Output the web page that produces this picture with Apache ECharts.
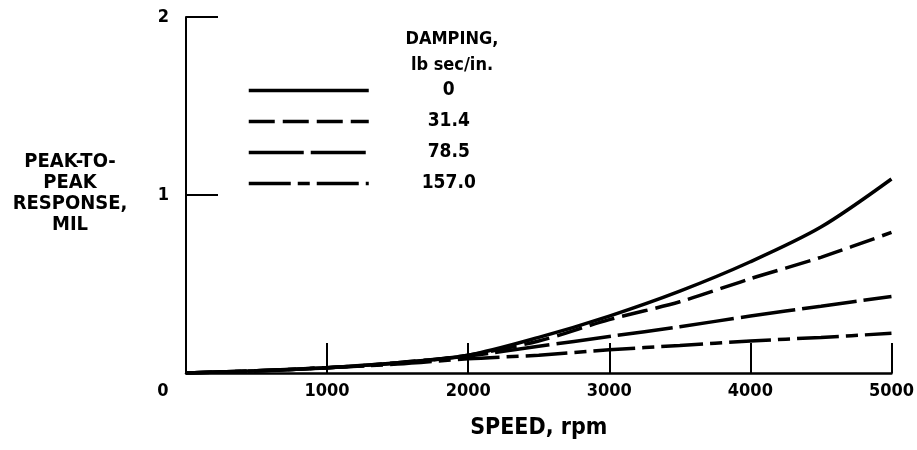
<!DOCTYPE html>
<html>
<head>
<meta charset="utf-8">
<script src="https://cdn.jsdelivr.net/npm/echarts@6/dist/echarts.min.js"></script>
<style>
  html, body { margin: 0; padding: 0; background: #fff; }
  #chart { width: 917px; height: 450px; }
</style>
</head>
<body>
<div id="chart"></div>
<script>
// speed (rpm) and peak-to-peak response (mil) for each damping value
const speeds = [0, 500, 1000, 1500, 2000, 2500, 3000, 3500, 4000, 4500, 5000];
const damp0 = [0, 0.012, 0.03, 0.058, 0.1, 0.2, 0.32, 0.46, 0.625, 0.82, 1.09];
const damp31 = [0, 0.012, 0.03, 0.058, 0.1, 0.18, 0.3, 0.4, 0.53, 0.65, 0.79];
const damp78 = [0, 0.012, 0.03, 0.055, 0.095, 0.15, 0.205, 0.26, 0.32, 0.375, 0.43];
const damp157 = [0, 0.012, 0.03, 0.05, 0.08, 0.1, 0.13, 0.155, 0.18, 0.2, 0.223];
const legendNames = ["0", "31.4", "78.5", "157.0"];

const font = "'DejaVu Sans Condensed', 'Liberation Sans Narrow', sans-serif";

function pairs(vals) {
  return speeds.map((s, i) => [s, vals[i]]);
}

function line(name, vals, dash) {
  return {
    type: "line",
    name: name,
    data: pairs(vals),
    smooth: 0.3,
    symbol: "none",
    itemStyle: { color: "#000" },
    lineStyle: { color: "#000", width: 3.5, type: dash }
  };
}

let myChart = echarts.init(document.getElementById("chart"));
let option = {
  backgroundColor: "#fff",
  animation: false,
  color: ["#000"],
  textStyle: { fontFamily: font },
  grid: { left: 186, right: 19, top: 17, bottom: 77 },
  title: {
    text: "DAMPING,\nlb sec/in.",
    left: 447,
    top: 21,
    textAlign: "center",
    textStyle: { fontFamily: font, fontWeight: "bold", fontSize: 18, lineHeight: 26, color: "#000" }
  },
  legend: {
    orient: "vertical",
    left: 247,
    top: 81,
    padding: 0,
    itemWidth: 120,
    itemHeight: 14,
    itemGap: 12,
    data: legendNames,
    itemStyle: { opacity: 0 },
    lineStyle: { width: 3.5 },
    formatter: (n) => "{v|" + n + "}",
    textStyle: {
      rich: {
        v: { width: 150, align: "center", fontFamily: font, fontWeight: "bold", fontSize: 19, color: "#000" }
      }
    }
  },
  graphic: [
    {
      type: "text",
      x: 70,
      y: 151,
      style: {
        text: "PEAK-TO-\nPEAK\nRESPONSE,\nMIL",
        fill: "#000",
        font: "bold 20px " + font,
        lineHeight: 21,
        align: "center"
      }
    }
  ],
  xAxis: {
    type: "value",
    min: 0,
    max: 5000,
    interval: 1000,
    name: "SPEED, rpm",
    nameLocation: "middle",
    nameGap: 44,
    nameTextStyle: { fontFamily: font, fontWeight: "bold", fontSize: 23, color: "#000" },
    axisLine: { lineStyle: { color: "#000", width: 2.5 } },
    axisTick: { inside: true, length: 30, lineStyle: { color: "#000", width: 2 } },
    splitLine: { show: false },
    axisLabel: {
      margin: 9,
      fontFamily: font,
      fontWeight: "bold",
      fontSize: 18,
      color: "#000",
      formatter: (v) => (v === 0 ? "{z|0}" : String(v)),
      rich: {
        z: { padding: [0, 46, 0, 0], fontFamily: font, fontWeight: "bold", fontSize: 18, color: "#000" }
      }
    }
  },
  yAxis: {
    type: "value",
    min: 0,
    max: 2,
    interval: 1,
    axisLine: { show: true, lineStyle: { color: "#000", width: 2 } },
    axisTick: { show: true, inside: true, length: 32, lineStyle: { color: "#000", width: 2 } },
    splitLine: { show: false },
    axisLabel: {
      margin: 17,
      fontFamily: font,
      fontWeight: "bold",
      fontSize: 18,
      color: "#000",
      formatter: (v) => (v === 0 ? "" : String(v))
    }
  },
  series: [
    line("0", damp0, "solid"),
    line("31.4", damp31, [26, 8]),
    line("78.5", damp78, [55, 7]),
    line("157.0", damp157, [42, 7, 12, 7])
  ]
};
myChart.setOption(option);
</script>
</body>
</html>
